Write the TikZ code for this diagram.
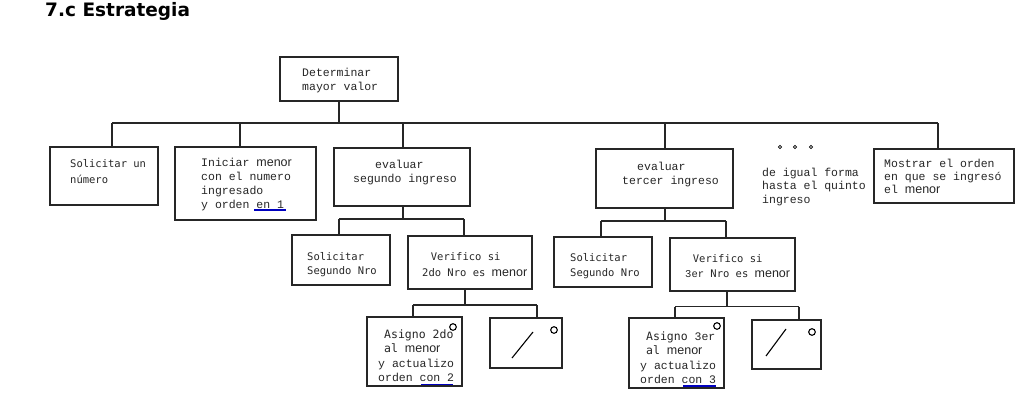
\documentclass[tikz,border=0pt]{standalone}
\usepackage{fontspec}
\newfontfamily\cour{Liberation Mono}
\newfontfamily\dmono{DejaVu Sans Mono}
\newfontfamily\arial{Liberation Sans}
\newfontfamily\verd{DejaVu Sans}
\newcommand{\mn}{{\arial\fontsize{12.5}{14}\selectfont menor}}
\tikzset{
  caja/.style={draw=black!85,line width=1.1pt,rectangle,inner sep=0pt},
  txt/.style={anchor=base west,inner sep=0pt,align=left,text=black!85,font=\cour\fontsize{11.5}{14}\selectfont},
  txd/.style={txt,font=\dmono\fontsize{10.5}{14}\selectfont},
  raya/.style={line width=1.1pt,draw=black!85},
  subr/.style={draw=blue!75!black,line width=1.2pt}
}
\begin{document}
\begin{tikzpicture}[x=1pt,y=-1pt]
\useasboundingbox (0,0) rectangle (1035,407);
\node[anchor=base west,inner sep=0pt,font=\verd\bfseries\fontsize{18.5}{20}\selectfont] (titulo) at (45,16.5) {7.c Estrategia};
% cajas
\node[caja,minimum width=118pt,minimum height=44pt] (raiz) at (339,79) {};
\node[caja,minimum width=108pt,minimum height=58pt] (sol) at (104,176) {};
\node[caja,minimum width=141pt,minimum height=73pt] (ini) at (245.5,183.5) {};
\node[caja,minimum width=136pt,minimum height=58pt] (ev2) at (402,177) {};
\node[caja,minimum width=137pt,minimum height=59pt] (ev3) at (664.5,178.5) {};
\node[caja,minimum width=140pt,minimum height=54pt] (most) at (944,176) {};
\node[caja,minimum width=98pt,minimum height=50pt] (sol2) at (341,260) {};
\node[caja,minimum width=124pt,minimum height=53pt] (ver2) at (470,262.5) {};
\node[caja,minimum width=98pt,minimum height=50pt] (sol3) at (603,262) {};
\node[caja,minimum width=125pt,minimum height=53pt] (ver3) at (732.5,264.5) {};
\node[caja,minimum width=95pt,minimum height=69pt] (asi2) at (414.5,351.5) {};
\node[caja,minimum width=72pt,minimum height=50pt] (no2) at (526,343) {};
\node[caja,minimum width=95pt,minimum height=70pt] (asi3) at (676.5,353) {};
\node[caja,minimum width=69pt,minimum height=49pt] (no3) at (786.5,344.5) {};
% textos (base = ultima linea)
\node[txt] (traiz) at (302,90.5) {Determinar\\mayor valor};
\node[txd] (tsol) at (70,183.5) {Solicitar un\\[2.5pt]número};
\node[txt] (tini) at (201,208) {Iniciar \mn\\con el numero\\ingresado\\y orden en 1};
\node[txt] (tev2) at (353,182) {\hspace*{22pt}evaluar\\segundo ingreso};
\node[txt] (tev3) at (622,184) {\hspace*{15pt}evaluar\\tercer ingreso};
\node[txt] (tmost) at (884,193) {Mostrar el orden\\[-1pt]en que se ingresó\\[-1pt]el \mn};
\node[txt] (tigual) at (762,203) {de igual forma\\[-0.5pt]hasta el quinto\\[-0.5pt]ingreso};
\node[txd] (tsol2) at (307,274.5) {Solicitar\\[0.5pt]Segundo Nro};
\node[txd] (tver2) at (422,276.5) {\hspace*{8.7pt}Verifico si\\[2pt]2do Nro es \mn};
\node[txd] (tsol3) at (570,276) {Solicitar\\[1pt]Segundo Nro};
\node[txd] (tver3) at (685,277) {\hspace*{7.7pt}Verifico si\\[0.5pt]{\cour 3er} Nro es \mn};
\node[txt] (tasi2) at (378,381.5) {{\dmono\hspace*{6pt}Asigno 2do}\\[0.5pt]{\dmono\hspace*{6pt}al} \mn\\[0.5pt]y actualizo\\[0.5pt]orden con 2};
\node[txt] (tasi3) at (640,383.5) {{\dmono\hspace*{6pt}Asigno }3er\\[0.5pt]{\dmono\hspace*{6pt}al} \mn\\[0.5pt]y actualizo\\[0.5pt]orden con 3};
% conectores
\coordinate (h0) at (112,123); \coordinate (h1) at (240,123); \coordinate (h2) at (403,123);
\coordinate (h3) at (665,123); \coordinate (h4) at (938,123);
\draw[raya] (raiz.south) -- (raiz.south |- h0) (h0) -- (h4);
\foreach \c/\b in {h0/sol,h1/ini,h2/ev2,h3/ev3,h4/most}
  \draw[raya] (\c) -- (\c |- \b.north);
\coordinate (p0) at (339,219); \coordinate (p1) at (464,219);
\coordinate (q0) at (601,221); \coordinate (q1) at (726,221);
\coordinate (r0) at (413,305); \coordinate (r1) at (537,305);
\coordinate (s0) at (675,306.5); \coordinate (s1) at (799,306.5);
\draw[raya] (h2 |- ev2.south) -- (h2 |- p0) (p0) -- (p1) (p0) -- (p0 |- sol2.north) (p1) -- (p1 |- ver2.north);
\draw[raya] (h3 |- ev3.south) -- (h3 |- q0) (q0) -- (q1) (q0) -- (q0 |- sol3.north) (q1) -- (q1 |- ver3.north);
\draw[raya] (465,289) -- (465,305) (r0) -- (r1) (r0) -- (r0 |- asi2.north) (r1) -- (r1 |- no2.north);
\draw[raya] (727,291) -- (727,306.5) (s0) -- (s1) (s0) -- (s0 |- asi3.north) (s1) -- (s1 |- no3.north);
% marcas
\draw[subr] (254,210) -- (286,210) (421,384.5) -- (453,384.5) (683,386) -- (716,386);
\draw[line width=1.1pt] (453,327) circle[radius=3.3] (554,330) circle[radius=3.3]
  (717,326) circle[radius=3.3] (812,332) circle[radius=3.3];
\draw[line width=1.1pt] (512,358) -- (533,332) (766,356) -- (786,329);
\foreach \x in {780,795,811} \draw[line width=0.8pt] (\x,147) circle[radius=1.6];
\end{tikzpicture}
\end{document}
